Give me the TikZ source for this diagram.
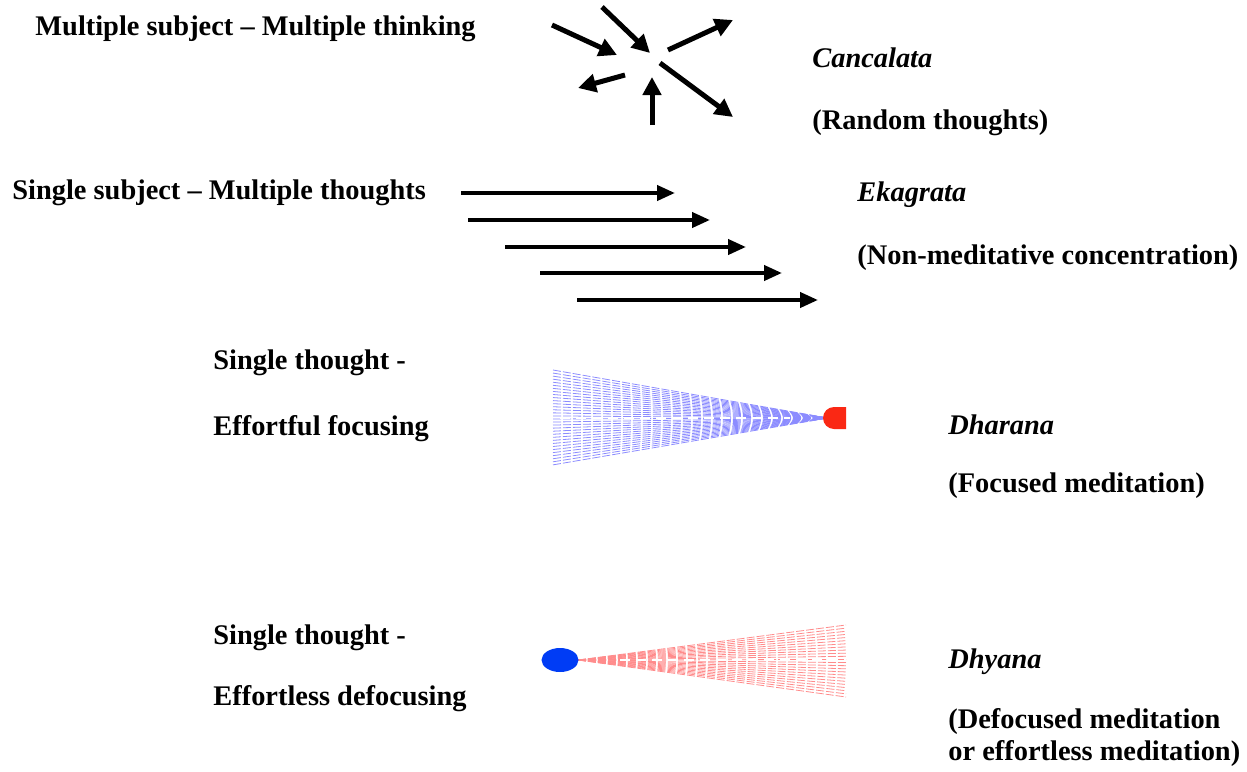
\documentclass[tikz,border=0pt]{standalone}
\usepackage{fontspec}
\setmainfont{Liberation Serif}
\usetikzlibrary{arrows.meta}
\definecolor{dotred}{RGB}{250,40,20}
\definecolor{dotblue}{RGB}{0,60,245}

\begin{document}
\begin{tikzpicture}[x=0.5pt,y=-0.5pt,
  txt/.style={anchor=west,inner sep=0pt,font=\fontsize{14.2}{16}\selectfont\bfseries},
  itxt/.style={txt,font=\fontsize{14.2}{16}\selectfont\bfseries\itshape},
  thick arrow/.style={line width=2.5pt,-{Triangle[length=9pt,width=9pt]}},
  flat arrow/.style={line width=2pt,-{Triangle[length=9pt,width=7.5pt]}}]
  \useasboundingbox (0,0) rectangle (1247,771);
  % random thoughts
  \node[txt] (mstitle) at (35,29) {Multiple subject -- Multiple thinking};
  \draw[thick arrow] (552,25) -- (617,55);
  \draw[thick arrow] (602,7) -- (650,53);
  \draw[thick arrow] (668,50) -- (733,20);
  \draw[thick arrow] (625,75) -- (578,88);
  \draw[thick arrow] (652,125) -- (652,77);
  \draw[thick arrow] (660,63) -- (733,117);
  \node[itxt] (cancalata) at (812,58) {Cancalata};
  \node[txt] (random) at (812,123) {(Random thoughts)};
  % concentration
  \node[txt] (sstitle) at (12,193) {Single subject -- Multiple thoughts};
  \foreach \xa/\xb/\y in {461/675/193,468/710/220,505/746/247,540/782/273,577/818/300}
    \draw[flat arrow] (\xa,\y) -- (\xb,\y);
  \node[itxt] (ekagrata) at (857,195) {Ekagrata};
  \node[txt] (nonmed) at (857,258) {(Non-meditative concentration)};
  % focused
  \node[txt] (st1) at (213,363) {Single thought -};
  \node[txt] (effortful) at (213,429) {Effortful focusing};
  \foreach \k in {0,...,31}
    \draw[blue!45,line width=0.4pt,dash pattern=on 4pt off 1pt] (553,370+\k*3.06) -- (828,418);
  \draw[white,line width=0.8pt,dash pattern=on 5pt off 3pt] (560,418) -- (790,418);
  \fill[dotred] (846,407) -- (834,407) arc(270:90:11) -- (846,429) -- cycle;
  \node[itxt] (dharana) at (948,425) {Dharana};
  \node[txt] (focused) at (948,486) {(Focused meditation)};
  % defocused
  \node[txt] (st2) at (213,638) {Single thought -};
  \node[txt] (effortless) at (213,699) {Effortless defocusing};
  \foreach \k in {0,...,23}
    \draw[red!45,line width=0.4pt,dash pattern=on 4pt off 1pt] (578,660) -- (846,625+\k*3.13);
  \draw[white,line width=0.8pt,dash pattern=on 5pt off 3pt] (620,660) -- (846,660);
  \fill[dotblue] (560,660) ellipse[x radius=18.5,y radius=12];
  \node[itxt] (dhyana) at (948,662) {Dhyana};
  \node[txt] (defoc) at (948,722) {(Defocused meditation};
  \node[txt] (effless) at (948,754) {or effortless meditation)};
\end{tikzpicture}
\end{document}
